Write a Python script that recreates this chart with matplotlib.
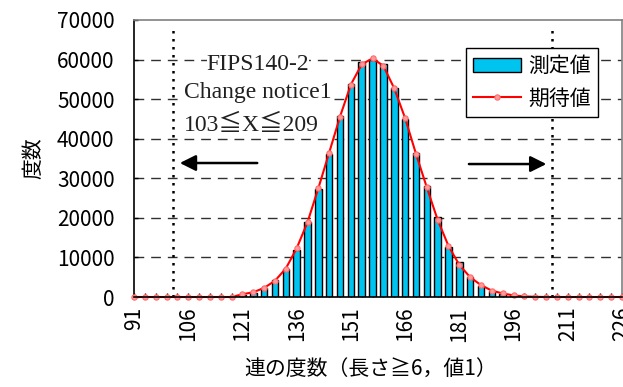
import matplotlib
matplotlib.use("Agg")
import matplotlib.pyplot as plt
import numpy as np

plt.rcParams['font.family'] = ['Noto Sans CJK JP', 'DejaVu Sans']

# categories: run counts 91..226 step 3
categories = list(range(91, 227, 3))
measured = [0, 0, 0, 0, 0, 0, 0, 0, 0, 0,
            600, 1100, 2200, 4300, 7000, 12000, 18900, 27200, 36200, 45800,
            53800, 59300, 60000, 58900, 52700, 45000, 36500, 28000, 20100, 12700,
            8900, 5000, 2800, 1500, 800, 350, 120, 40, 0, 0,
            0, 0, 0, 0, 0, 0]
expected = [0, 0, 0, 0, 0, 0, 0, 0, 0, 0,
            700, 1200, 2300, 4100, 7200, 12300, 18900, 27500, 36500, 45600,
            53700, 58800, 60300, 58400, 52700, 45200, 36200, 27700, 19500, 12900,
            8100, 5000, 3000, 1600, 900, 400, 150, 60, 0, 0,
            0, 0, 0, 0, 0, 0]
label_every = 5
yticks = list(range(0, 70001, 10000))
legend_labels = ['測定値', '期待値']
note_lines = ['FIPS140-2', 'Change notice1', '103≦X≦209']

fig = plt.figure(figsize=(6.23, 3.87), dpi=100)
ax = fig.add_axes([134/623, 1-297/387, (622-134)/623, (297-20)/387])

x = np.arange(len(categories))
bars = ax.bar(x, measured, width=0.6, color='#00C4F0', edgecolor='black', linewidth=1.0,
              label=legend_labels[0], zorder=3)
line, = ax.plot(x, expected, color='#FF0000', lw=1.5, marker='o', markersize=3.8,
                markerfacecolor='#FF9A9A', markeredgecolor='#FF6A6A', markeredgewidth=0.8,
                label=legend_labels[1], zorder=4, clip_on=False)

ax.set_xlim(0, len(categories) - 1)
ax.set_ylim(0, 70000)
ax.set_yticks(yticks)
ax.set_yticklabels([str(v) for v in yticks], fontsize=15)
ax.set_xticks(x)
ax.set_xticklabels([str(c) if i % label_every == 0 else '' for i, c in enumerate(categories)],
                   rotation=90, fontsize=15)
ax.tick_params(axis='both', direction='in', length=3, width=1, color='black')
ax.tick_params(axis='y', pad=14)
ax.tick_params(axis='x', pad=7)

for v in yticks[1:-1]:
    ax.axhline(v, color='#303030', lw=1.0, dashes=(7, 5), zorder=1)

for side in ['top', 'right']:
    ax.spines[side].set_color('#808080')
    ax.spines[side].set_linewidth(1.2)
for side in ['left', 'bottom']:
    ax.spines[side].set_color('black')
    ax.spines[side].set_linewidth(1.2)
ax.spines['bottom'].set_zorder(5)

# limit lines
for xv in [3.6, 38.56]:
    ax.plot([xv, xv], [0, 68000], color='black', lw=1.8, ls=(0, (1, 2.2)), zorder=2)

# arrows
ax.annotate('', xy=(3.97, 33860), xytext=(11.62, 33860),
            arrowprops=dict(arrowstyle='-|>', color='black', lw=1.8, mutation_scale=24), zorder=6)
ax.annotate('', xy=(38.28, 33600), xytext=(30.63, 33600),
            arrowprops=dict(arrowstyle='-|>', color='black', lw=1.8, mutation_scale=24), zorder=6)

serif = ['Liberation Serif', 'Noto Sans CJK JP']
ax.text(11.44, 58630, note_lines[0], ha='center', va='center', fontsize=17, family=serif,
        color='#202020', zorder=6, bbox=dict(facecolor='white', edgecolor='none', pad=0))
ax.text(11.44, 51800, note_lines[1], ha='center', va='center', fontsize=17, family=serif,
        color='#202020', zorder=6, bbox=dict(facecolor='white', edgecolor='none', pad=0))
ax.text(10.8, 43470, note_lines[2], ha='center', va='center', fontsize=17, family=serif,
        color='#202020', zorder=6)

ax.set_ylabel('度数', fontsize=15)
ax.yaxis.set_label_coords(-(134-44)/488, 0.5)
ax.set_xlabel('連の度数（長さ≧6，値1）', fontsize=15)
ax.xaxis.set_label_coords((371-134)/488, -(358-297)/277)

leg = ax.legend([bars, line], legend_labels, loc='upper right', bbox_to_anchor=(598/623, 1-48/387),
                bbox_transform=fig.transFigure, fontsize=15, frameon=True, fancybox=False,
                edgecolor='black', framealpha=1, borderaxespad=0, handlelength=2.3,
                handletextpad=0.35, borderpad=0.35, labelspacing=0.5, handleheight=0.7)
leg.get_frame().set_linewidth(1.0)
leg.set_zorder(10)

fig.savefig('out.png', dpi=100)
